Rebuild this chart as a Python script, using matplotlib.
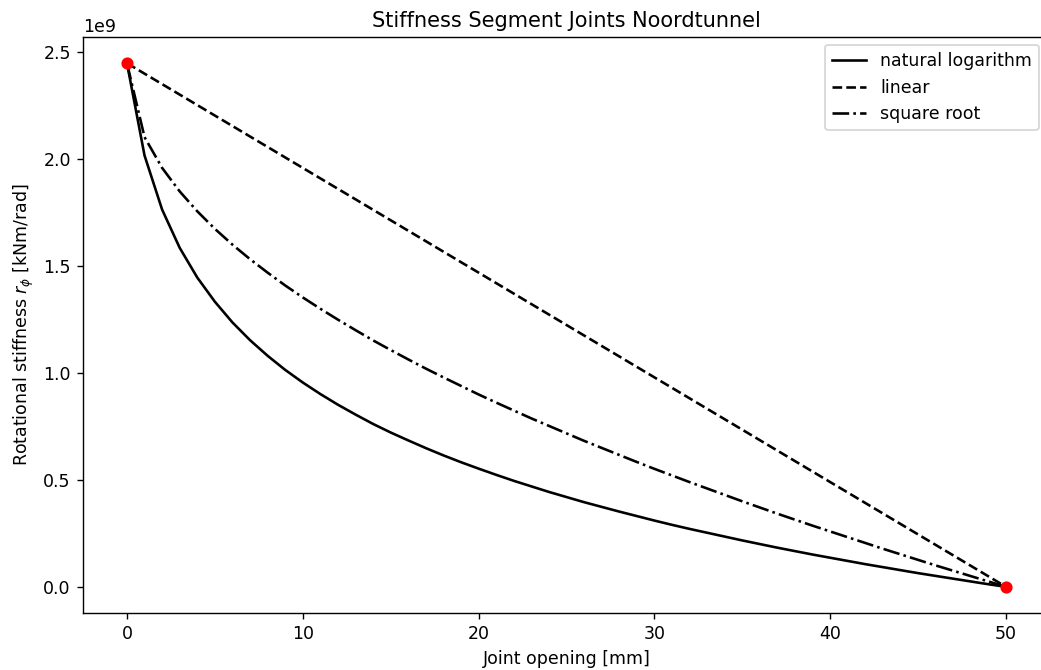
import matplotlib
matplotlib.use("Agg")
import matplotlib.pyplot as plt

# Joint opening [mm]
opening = list(range(0, 51))

# Rotational stiffness [1e9 kNm/rad] for the natural logarithm relation
stiff_log = [2.450, 2.018, 1.765, 1.586, 1.447, 1.334, 1.237, 1.154, 1.081, 1.015,
             0.956, 0.902, 0.852, 0.806, 0.762, 0.722, 0.685, 0.649, 0.615, 0.583,
             0.553, 0.524, 0.496, 0.470, 0.444, 0.420, 0.396, 0.374, 0.352, 0.331,
             0.310, 0.290, 0.271, 0.253, 0.235, 0.217, 0.200, 0.183, 0.167, 0.151,
             0.136, 0.121, 0.106, 0.092, 0.078, 0.064, 0.051, 0.038, 0.025, 0.012,
             0.000]

# Rotational stiffness [1e9 kNm/rad] for the square root relation
stiff_sqrt = [2.450, 2.104, 1.960, 1.850, 1.757, 1.675, 1.601, 1.533, 1.470, 1.410,
              1.354, 1.301, 1.250, 1.201, 1.153, 1.108, 1.064, 1.021, 0.980, 0.940,
              0.900, 0.862, 0.825, 0.788, 0.753, 0.718, 0.683, 0.650, 0.617, 0.584,
              0.552, 0.521, 0.490, 0.460, 0.430, 0.400, 0.371, 0.342, 0.314, 0.286,
              0.259, 0.232, 0.205, 0.178, 0.152, 0.126, 0.100, 0.075, 0.050, 0.025,
              0.000]

# Linear relation between the two end points
lin_opening = [0, 50]
stiff_lin = [2.450, 0.000]

# End points (closed joint / fully opened joint)
end_opening = [0, 50]
end_stiff = [2.450, 0.000]

scale = 1e9

W, H, DPI = 1041, 670, 125
fig = plt.figure(figsize=(W / DPI, H / DPI), dpi=DPI)
ax = fig.add_axes([83 / W, 57 / H, 967 / W, 576 / H])

ax.plot(opening, [v * scale for v in stiff_log], color="black", linestyle="-",
        label="natural logarithm")
ax.plot(lin_opening, [v * scale for v in stiff_lin], color="black", linestyle="--",
        label="linear")
ax.plot(opening, [v * scale for v in stiff_sqrt], color="black", linestyle="-.",
        label="square root")
ax.plot(end_opening, [v * scale for v in end_stiff], "o", color="red", zorder=5)

ax.set_title("Stiffness Segment Joints Noordtunnel")
ax.set_xlabel("Joint opening [mm]")
ax.set_ylabel(r"Rotational stiffness $r_\phi$ [kNm/rad]")

ax.legend(loc="upper right", bbox_to_anchor=(1039 / W, 1 - 45 / H),
          bbox_transform=fig.transFigure, borderaxespad=0)

fig.savefig("out.png", dpi=DPI)
